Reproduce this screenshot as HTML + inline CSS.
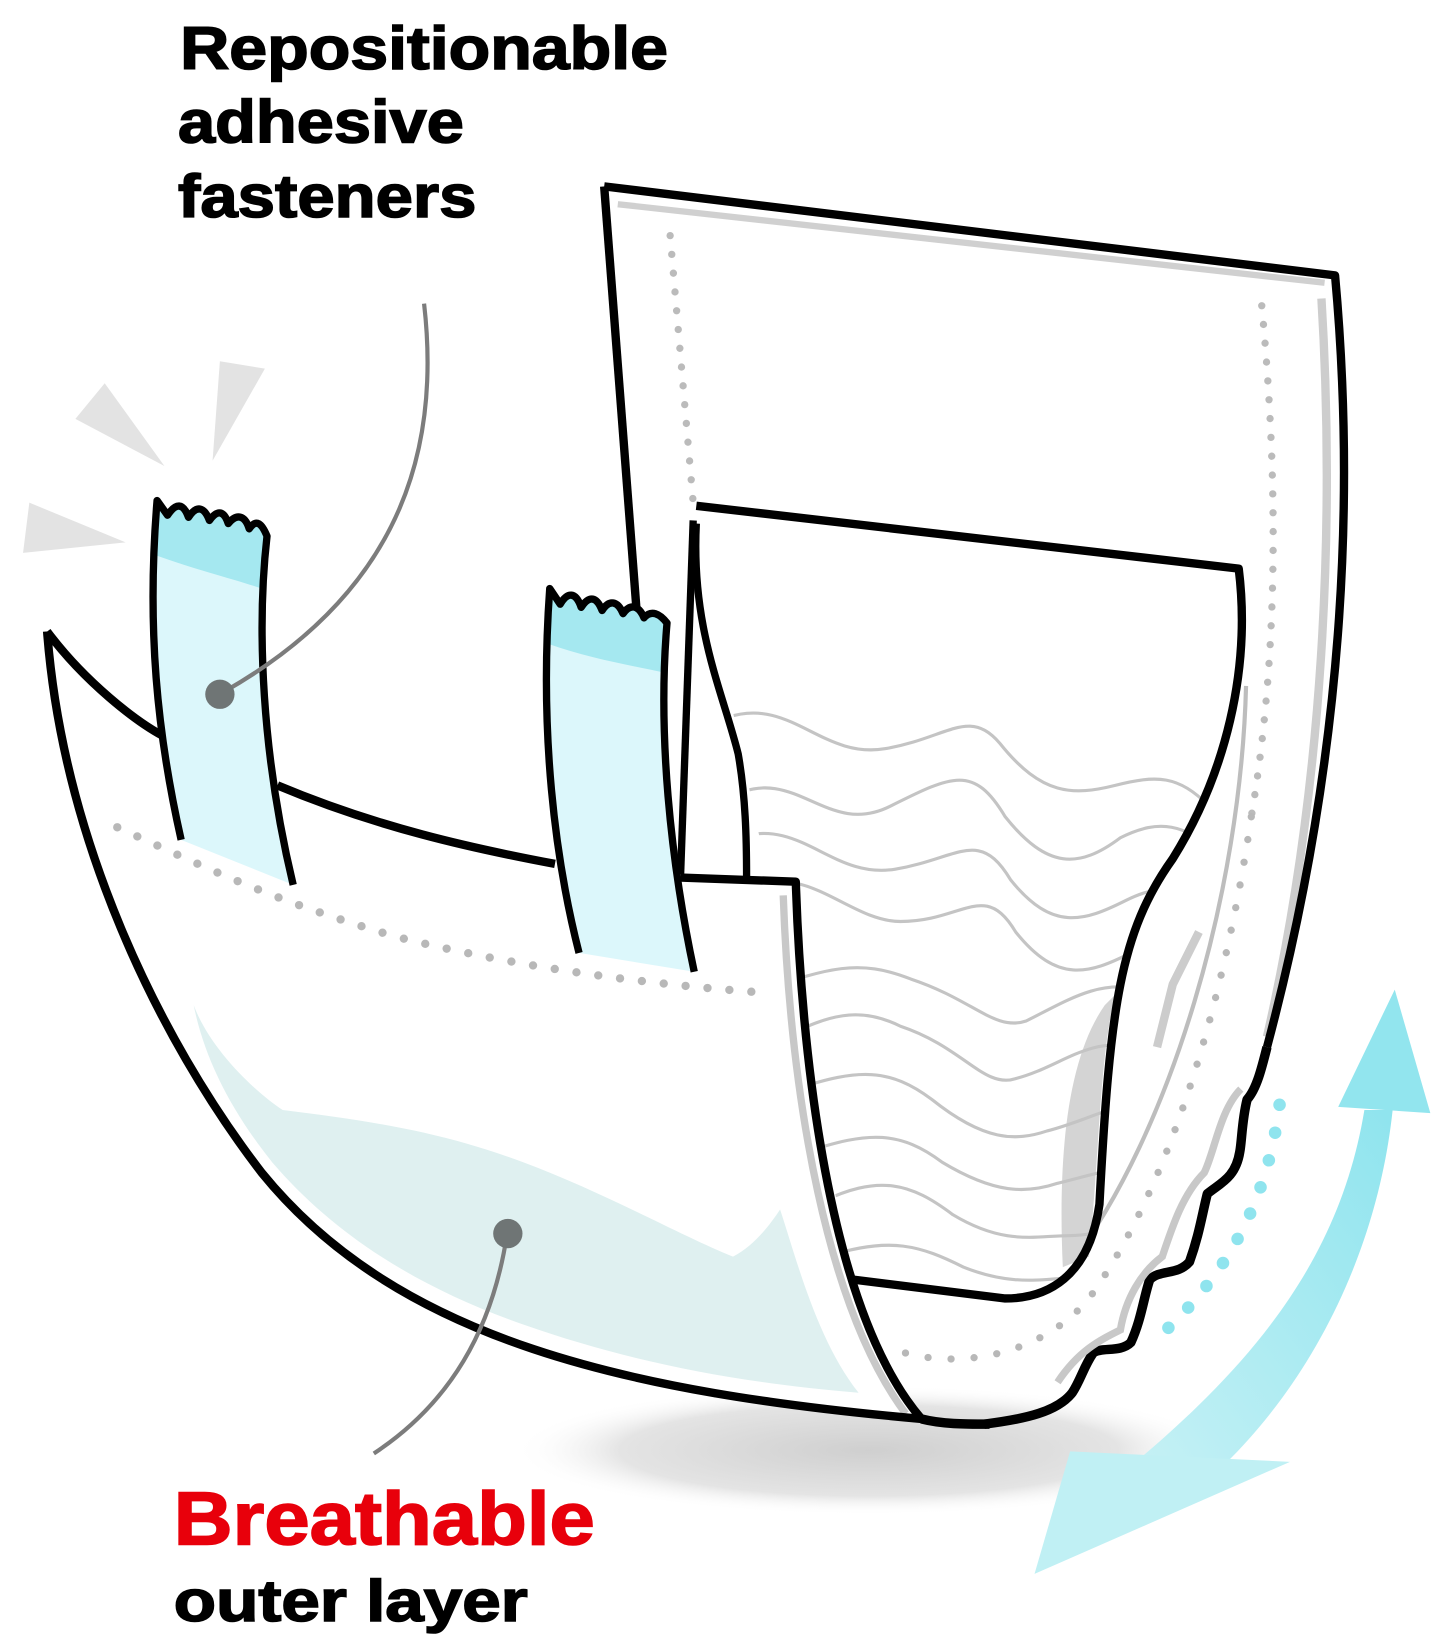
<!DOCTYPE html>
<html><head><meta charset="utf-8"><style>
html,body{margin:0;padding:0;background:#fff;}
svg{display:block;}
text{font-family:"Liberation Sans",sans-serif;font-weight:bold;}
</style></head><body>
<svg width="1445" height="1643" viewBox="0 0 1380 1569" preserveAspectRatio="none" xmlns="http://www.w3.org/2000/svg">
<defs>
<radialGradient id="sh" cx="0.5" cy="0.5" r="0.5">
<stop offset="0" stop-color="#cfcfcf"/><stop offset="0.7" stop-color="#e4e4e4"/><stop offset="1" stop-color="#fff" stop-opacity="0"/>
</radialGradient>
<linearGradient id="ar" x1="0" y1="1" x2="1" y2="0">
<stop offset="0" stop-color="#c6f1f5"/><stop offset="1" stop-color="#8fe4ee"/>
</linearGradient>
<clipPath id="pad"><path d="M665,483 L1183,543 C1195,640 1170,740 1120,820 C1070,890 1060,960 1050,1150 C1040,1220 1000,1240 960,1240 L815,1222 L700,680 Z"/></clipPath>
</defs>

<!-- text -->
<g stroke="#000" stroke-width="1.5">
<text x="172" y="66" font-size="58" fill="#000" textLength="466" lengthAdjust="spacingAndGlyphs">Repositionable</text>
<text x="170" y="136" font-size="58" fill="#000" textLength="273" lengthAdjust="spacingAndGlyphs">adhesive</text>
<text x="170" y="207" font-size="58" fill="#000" textLength="285" lengthAdjust="spacingAndGlyphs">fasteners</text>
<text x="166" y="1548" font-size="56" fill="#000" textLength="338" lengthAdjust="spacingAndGlyphs">outer layer</text>
</g>
<text x="166" y="1475" font-size="72" fill="#e8000b" stroke="#e8000b" stroke-width="1.5" textLength="402" lengthAdjust="spacingAndGlyphs">Breathable</text>

<!-- burst -->
<polygon points="100,366 157,445 72,400" fill="#e3e3e3"/>
<polygon points="210,345 253,352 203,440" fill="#e3e3e3"/>
<polygon points="28,480 120,518 22,528" fill="#e3e3e3"/>

<!-- shadow -->
<ellipse cx="830" cy="1385" rx="340" ry="62" fill="url(#sh)"/>

<!-- blue arrow -->
<path d="M1080,1400 C1200,1300 1280,1200 1303,1060 L1330,1060 C1315,1200 1250,1320 1170,1398 Z" fill="url(#ar)"/>
<polygon points="1278,1057 1332,945 1366,1063" fill="#92e5ee"/>
<polygon points="988,1503 1022,1386 1232,1396" fill="#c0f0f4"/>

<!-- back panel -->
<path d="M577,178 L1275,263 C1292,450 1290,700 1210,1000 L1010,1300 L720,1200 L610,610 Z" fill="#fff"/>
<path d="M590,195 L1265,270" stroke="#d0d0d0" stroke-width="6" fill="none"/>
<path d="M1262,285 C1275,500 1265,750 1210,990" stroke="#cdcdcd" stroke-width="8" fill="none"/>
<path d="M640,225 L662,480" stroke="#bbb" stroke-width="7" stroke-dasharray="0 18" stroke-linecap="round" fill="none"/>
<path d="M1205,292 C1220,450 1222,620 1195,780" stroke="#bbb" stroke-width="7" stroke-dasharray="0 18" stroke-linecap="round" fill="none"/>
<path d="M1195,780 C1170,950 1120,1130 1040,1240 C990,1300 900,1310 845,1285" stroke="#b8b8b8" stroke-width="7" stroke-dasharray="0 22" stroke-linecap="round" fill="none"/>
<path d="M577,178 L1275,263 C1292,450 1290,700 1210,1000" stroke="#000" stroke-width="8" fill="none" stroke-linejoin="round"/>
<path d="M577,178 L610,610" stroke="#000" stroke-width="8" fill="none"/>
<path d="M1190,655 C1185,850 1120,1080 1020,1210" stroke="#bdbdbd" stroke-width="4" fill="none"/>
<!-- ruffle -->
<path d="M1210,1000 C1205,1020 1200,1040 1191,1050 C1186,1070 1186,1090 1184,1100 C1180,1125 1165,1130 1153,1140 C1148,1160 1145,1180 1136,1205 C1125,1218 1108,1212 1098,1222 C1092,1240 1090,1260 1080,1282 C1070,1292 1052,1286 1044,1292 C1035,1305 1032,1318 1024,1330 C1010,1348 980,1355 940,1360" stroke="#000" stroke-width="9" fill="none" stroke-linejoin="round"/>
<path d="M1185,1040 C1165,1060 1160,1100 1150,1120 C1130,1140 1120,1170 1110,1200 C1090,1215 1075,1240 1070,1270 C1050,1280 1030,1290 1010,1320" stroke="#c8c8c8" stroke-width="7" fill="none"/>
<path d="M1145,890 L1120,940 L1105,1000" stroke="#ccc" stroke-width="8" fill="none"/>

<!-- pad -->
<path d="M665,483 L1183,543 C1195,640 1170,740 1120,820 C1070,890 1060,960 1050,1150 C1040,1220 1000,1240 960,1240 L815,1222 L713,835 L700,680 Z" fill="#fff"/>
<path d="M1055,960 C1020,1010 1010,1100 1015,1210 L1040,1200 C1050,1100 1050,1010 1065,950 Z" fill="#d4d4d4"/>
<g clip-path="url(#pad)" fill="none" stroke="#c4c4c4" stroke-width="3">
<path d="M695,685 c60,-20 90,40 150,30 c60,-10 80,-40 110,-5 c40,50 70,50 110,40 c40,-10 60,-10 90,20"/>
<path d="M700,760 c60,-30 90,40 150,10 c60,-30 80,-40 110,10 c40,50 70,50 110,20 c40,-20 60,-10 90,10"/>
<path d="M705,800 c60,-20 90,40 150,30 c60,-10 80,-40 110,10 c40,50 70,40 110,20 c40,-20 60,-10 90,10"/>
<path d="M710,850 c60,-30 100,30 150,30 c60,0 80,-40 110,10 c40,50 70,40 110,20 c40,-20 60,-10 90,10"/>
<path d="M730,945 c60,-20 90,-30 140,-10 c60,20 80,50 110,40 c40,-20 70,-40 110,-30 c40,10 60,0 90,-20"/>
<path d="M750,990 c40,-20 70,-30 110,-10 c60,20 80,60 110,50 c40,-10 70,-40 110,-30"/>
<path d="M760,1040 c60,-20 90,-20 130,10 c50,40 80,40 110,30 c40,-10 70,-30 110,-30"/>
<path d="M770,1100 c60,-20 90,-20 130,10 c50,30 80,30 110,20 c40,-10 70,-20 110,-20"/>
<path d="M780,1150 c60,-30 90,-20 130,10 c50,30 80,20 110,20 c40,0 70,-20 110,-20"/>
<path d="M790,1200 c60,-20 90,-10 130,10 c50,20 80,10 110,10"/>
</g>
<path d="M665,483 L1183,543 C1195,640 1170,740 1120,820 C1070,890 1060,960 1050,1150 C1040,1220 1000,1240 960,1240 L815,1222" stroke="#000" stroke-width="8" fill="none" stroke-linejoin="round"/>
<path d="M662,497 L650,835" stroke="#000" stroke-width="7" fill="none"/>
<path d="M665,500 C660,600 690,660 705,720 C712,760 713,800 713,838" stroke="#000" stroke-width="7" fill="none"/>

<!-- front wing -->
<path d="M45,603 C80,650 130,690 160,705 L265,750 C360,790 450,810 530,825 L650,838 L760,842 C765,1000 790,1250 880,1355 C600,1330 380,1280 250,1120 C150,990 60,800 45,603 Z" fill="#fff"/>
<path d="M185,960 C200,1000 240,1040 270,1060 C350,1070 420,1080 500,1110 C580,1140 650,1180 700,1200 C720,1190 735,1170 745,1155 C760,1200 780,1280 820,1330 C700,1320 600,1300 500,1265 C400,1230 320,1180 260,1110 C220,1060 195,1010 185,960 Z" fill="#dff0f0"/>
<path d="M748,855 C755,1050 790,1250 865,1350" stroke="#c8c8c8" stroke-width="7" fill="none"/>
<path d="M112,790 C200,830 260,860 380,895 C500,925 620,940 730,948" stroke="#b8b8b8" stroke-width="8" stroke-dasharray="0 21" stroke-linecap="round" fill="none"/>
<path d="M45,603 C80,650 130,690 160,705 M265,750 C360,790 450,810 530,825 M650,838 L760,842 C765,1000 790,1250 880,1355 C600,1330 380,1280 250,1120 C150,990 60,800 45,603" stroke="#000" stroke-width="8" fill="none" stroke-linejoin="round"/>
<path d="M880,1355 C900,1360 920,1360 945,1360" stroke="#000" stroke-width="9" fill="none"/>

<!-- tapes -->
<path d="M150,478 L160,492 C168,480 175,480 180,494 C188,482 195,484 200,497 C208,486 214,488 218,500 C226,490 234,492 238,505 C245,495 250,500 255,512 C245,600 250,720 280,845 L173,802 C150,700 140,600 150,478 Z" fill="#dcf7fb"/>
<path d="M148,530 C190,545 220,552 250,562 L255,512 C250,500 245,495 238,505 C234,492 226,490 218,500 C214,488 208,486 200,497 C195,484 188,482 180,494 C175,480 168,480 160,492 L150,478 Z" fill="#a5e8f0"/>
<path d="M173,802 C150,700 140,600 150,478 L160,492 C168,480 175,480 180,494 C188,482 195,484 200,497 C208,486 214,488 218,500 C226,490 234,492 238,505 C245,495 250,500 255,512 C245,600 250,720 280,845" stroke="#000" stroke-width="7" fill="none" stroke-linejoin="round"/>
<path d="M525,562 L535,577 C542,565 550,565 555,580 C563,568 570,570 575,583 C582,572 590,574 595,586 C602,576 610,578 615,590 C622,582 630,586 637,595 C628,700 640,820 663,928 L553,910 C530,820 515,700 525,562 Z" fill="#dcf7fb"/>
<path d="M524,615 C560,628 600,635 633,642 L637,595 C630,586 622,582 615,590 C610,578 602,576 595,586 C590,574 582,572 575,583 C570,570 563,568 555,580 C550,565 542,565 535,577 L525,562 Z" fill="#a5e8f0"/>
<path d="M553,910 C530,820 515,700 525,562 L535,577 C542,565 550,565 555,580 C563,568 570,570 575,583 C582,572 590,574 595,586 C602,576 610,578 615,590 C622,582 630,586 637,595 C628,700 640,820 663,928" stroke="#000" stroke-width="7" fill="none" stroke-linejoin="round"/>

<!-- leaders -->
<path d="M405,290 C420,420 390,560 215,660" stroke="#7c7c7c" stroke-width="4" fill="none"/>
<circle cx="210" cy="663" r="14" fill="#6f7575"/>
<path d="M484,1180 C470,1270 430,1340 357,1388" stroke="#7c7c7c" stroke-width="4" fill="none"/>
<circle cx="485" cy="1178" r="14" fill="#6f7575"/>

<!-- cyan dots -->
<path d="M1222,1055 C1210,1150 1170,1220 1105,1278" stroke="#8fe4ee" stroke-width="12" stroke-dasharray="0 27" stroke-linecap="round" fill="none"/>
</svg>
</body></html>
